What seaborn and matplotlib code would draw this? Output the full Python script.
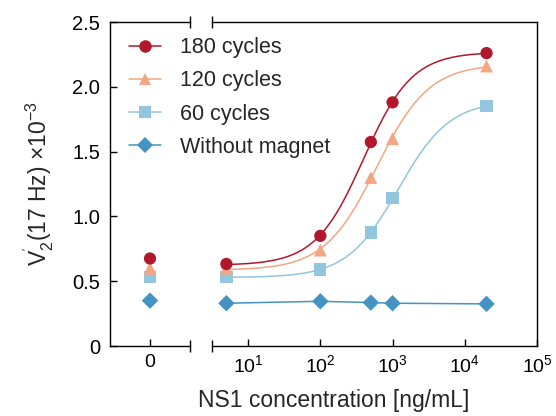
import matplotlib
matplotlib.use('Agg')
import numpy as np
import pandas as pd
import matplotlib.pyplot as plt
import seaborn as sns
from matplotlib.lines import Line2D
from matplotlib.ticker import LogLocator, LogFormatterSciNotation, NullLocator

# datos
conc = [5, 100, 500, 1000, 20000]          # ng/mL
series = ['180 cycles', '120 cycles', '60 cycles', 'Without magnet']
v_180 = [0.633, 0.85, 1.574, 1.88, 2.26]
v_120 = [0.60, 0.74, 1.30, 1.60, 2.16]
v_60 = [0.53, 0.59, 0.875, 1.14, 1.85]
v_sin = [0.33, 0.345, 0.335, 0.33, 0.325]
v_cero = [0.675, 0.60, 0.53, 0.35]          # valores a concentracion 0
colores = ['#b2182b', '#f4a582', '#92c5de', '#4393c3']
marcadores = ['o', '^', 's', 'D']
y_ticks = [0, 0.5, 1.0, 1.5, 2.0, 2.5]
y_tick_labels = ['0', '0.5', '1.0', '1.5', '2.0', '2.5']

sns.set_theme(style='ticks')
plt.rcParams['font.family'] = ['Liberation Sans', 'DejaVu Sans']
plt.rcParams['mathtext.fontset'] = 'custom'
plt.rcParams['mathtext.rm'] = 'Liberation Sans'
plt.rcParams['mathtext.it'] = 'Liberation Sans:italic'


def ajuste_sigmoide(lx, y):
    # logistica de 4 parametros: rejilla en (logEC50, pendiente), minimos cuadrados en (base, techo)
    mejor = None
    for c in np.linspace(1.5, 4.3, 141):
        for h in np.linspace(0.3, 2.5, 111):
            s = 1 / (1 + 10 ** ((c - lx) * h))
            A = np.column_stack([1 - s, s])
            coef, *_ = np.linalg.lstsq(A, y, rcond=None)
            r = np.sum((A @ coef - y) ** 2)
            if mejor is None or r < mejor[0]:
                mejor = (r, c, h, coef)
    return mejor[1:]


fig = plt.figure(figsize=(5.56, 4.16), dpi=100)
ax0 = fig.add_axes([110 / 556, 1 - 346 / 416, 80 / 556, 324 / 416])
ax1 = fig.add_axes([212 / 556, 1 - 346 / 416, 325 / 556, 324 / 416])

valores = [v_180, v_120, v_60, v_sin]
lx = np.log10(conc)
lx_fino = np.linspace(lx[0], lx[-1], 200)

for i in [3, 2, 1, 0]:
    y = np.array(valores[i])
    if series[i] == 'Without magnet':
        sns.lineplot(x=conc, y=y, ax=ax1, color=colores[i], lw=1.1, zorder=2)
    else:
        c, h, (b, t) = ajuste_sigmoide(lx, y)
        curva = b + (t - b) / (1 + 10 ** ((c - lx_fino) * h))
        sns.lineplot(x=10 ** lx_fino, y=curva, ax=ax1, color=colores[i], lw=1.1, zorder=2)
    tam = 85 if marcadores[i] == '^' else (70 if marcadores[i] == 'D' else 78)
    sns.scatterplot(x=conc, y=y, ax=ax1, color=colores[i], marker=marcadores[i],
                    s=tam, edgecolor='none', zorder=3 + (3 - i))
    sns.scatterplot(x=[0], y=[v_cero[i]], ax=ax0, color=colores[i], marker=marcadores[i],
                    s=tam, edgecolor='none', zorder=3 + (3 - i))

for ax in (ax0, ax1):
    ax.set_ylim(0, 2.5)
    ax.set_xlabel('')
    ax.set_ylabel('')
    for sp in ax.spines.values():
        sp.set_linewidth(1.0)
        sp.set_color('black')
    ax.tick_params(direction='in', length=5, width=1.0, labelsize=14, colors='black')

ax0.set_xlim(-1, 1)
ax0.set_xticks([0])
ax0.set_xticklabels(['0'])
ax0.set_yticks(y_ticks)
ax0.set_yticklabels(y_tick_labels)
ax0.spines['right'].set_visible(False)
ax0.tick_params(axis='x', pad=6)
ax0.tick_params(axis='y', pad=7, labelsize=14.5)

ax1.set_xscale('log')
ax1.set_xlim(10 ** 0.5, 1e5)
ax1.xaxis.set_major_locator(LogLocator(base=10, numticks=10))
ax1.xaxis.set_major_formatter(LogFormatterSciNotation())
ax1.xaxis.set_minor_locator(NullLocator())
ax1.spines['left'].set_visible(False)
ax1.set_yticks([])
ax1.tick_params(axis='x', pad=6)

# marcas del corte del eje
for ax, xb in ((ax0, 1), (ax1, 0)):
    ax.plot([xb, xb], [0, 1], transform=ax.transAxes, ls='none', marker='|',
            markersize=9, mew=1.0, color='black', clip_on=False)

ax0.set_ylabel(r"V$_{2}^{'}$(17 Hz) $\times$10$^{-3}$", fontsize=16.5, labelpad=12)
fig.text(0.6, 0.038, 'NS1 concentration [ng/mL]', fontsize=16.5, ha='center', va='center')

handles = [Line2D([], [], color=colores[i], marker=marcadores[i], markersize=9 if marcadores[i] != 'D' else 8,
                  lw=1.1, markeredgewidth=0) for i in range(4)]
fig.legend(handles, series, loc='upper left', bbox_to_anchor=(0.232, 0.91), frameon=False,
           fontsize=15.5, handlelength=1.5, labelspacing=0.56, handletextpad=0.85, borderaxespad=0,
           borderpad=0)

fig.savefig('out.png', dpi=100)
